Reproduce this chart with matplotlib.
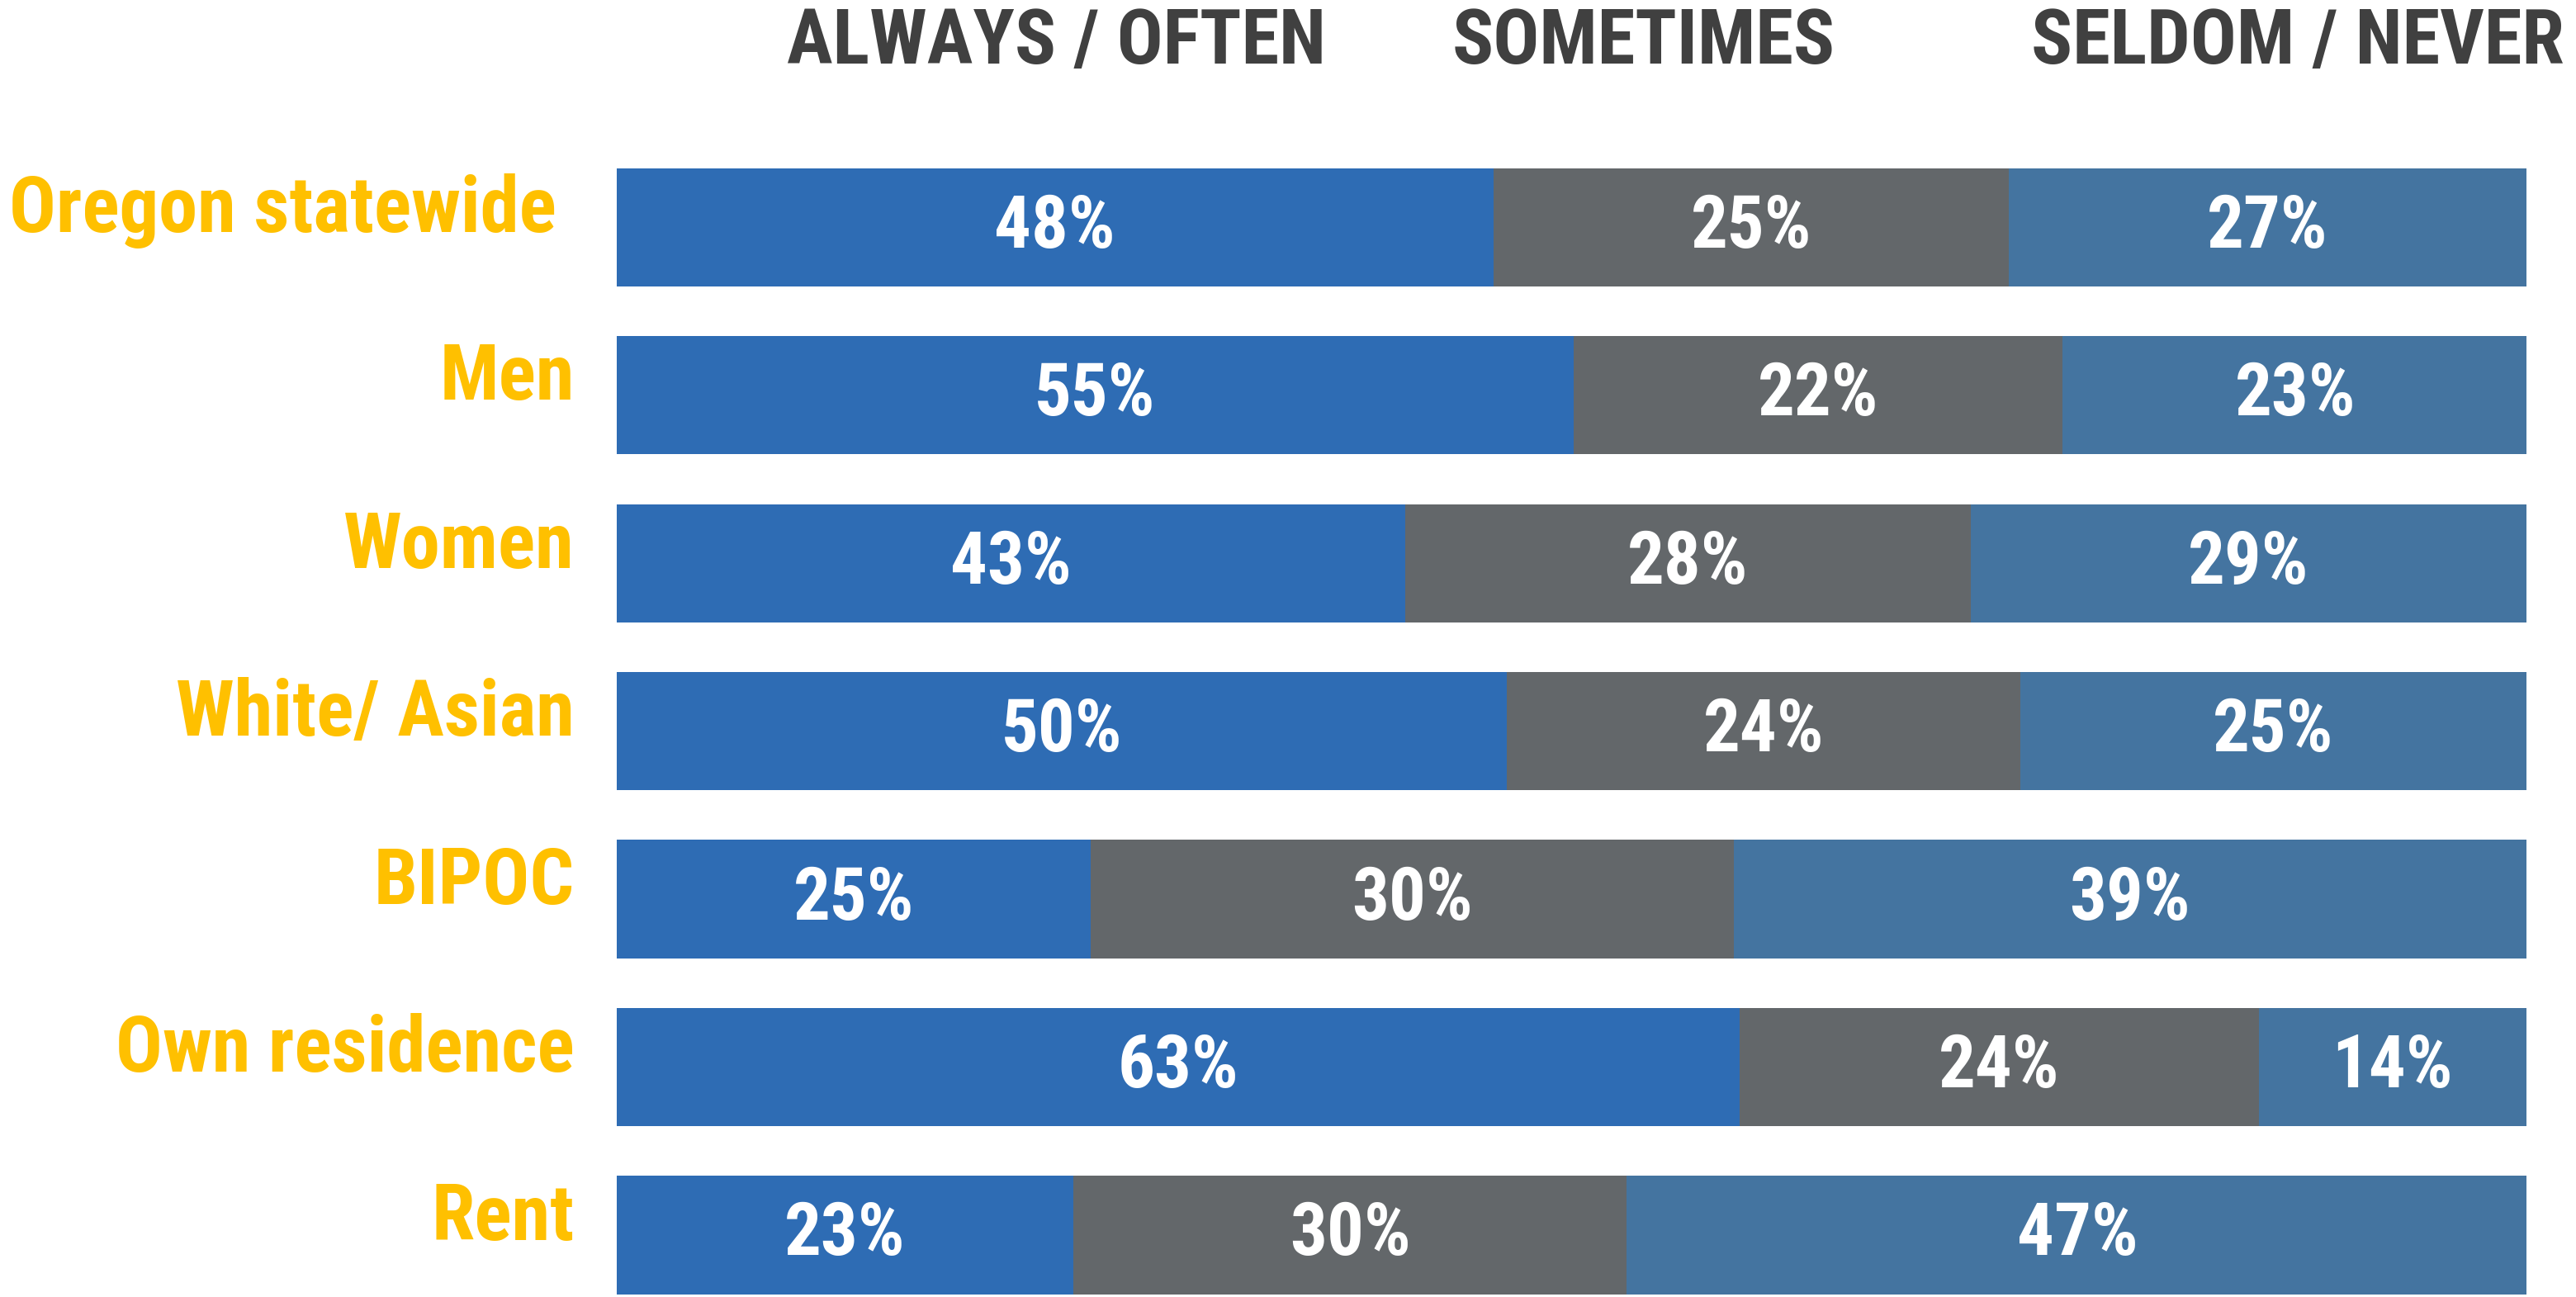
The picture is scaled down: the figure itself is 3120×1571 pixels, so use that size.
import matplotlib
matplotlib.use("Agg")
import matplotlib.pyplot as plt
import numpy as np

plt.rcParams["font.family"] = ["Roboto Condensed", "PT Sans Narrow", "Archivo Narrow", "DejaVu Sans"]

groups = ["Oregon statewide ", "Men", "Women", "White/ Asian", "BIPOC", "Own residence", "Rent"]
headers = ["ALWAYS / OFTEN", "SOMETIMES", "SELDOM / NEVER"]

# printed percentages
always = [48, 55, 43, 50, 25, 63, 23]
sometimes = [25, 22, 28, 24, 30, 24, 30]
seldom = [27, 23, 29, 25, 39, 14, 47]

# segment lengths as drawn in the picture (share of the full bar)
always_drawn = [45.9, 50.1, 41.3, 46.6, 24.8, 58.8, 23.9]
sometimes_drawn = [27.0, 25.6, 29.6, 26.9, 33.7, 27.2, 29.0]
seldom_drawn = [27.1, 24.4, 29.1, 26.5, 41.5, 14.0, 47.2]

colors = ["#2E6CB4", "#63676A", "#4474A0"]

fig = plt.figure(figsize=(31.2, 15.71), dpi=100)
ax = fig.add_axes([0.2394, 0.0, 0.7413, 0.924])

y = np.arange(len(groups))
left = np.zeros(len(groups))
for drawn, shown, col in zip([always_drawn, sometimes_drawn, seldom_drawn],
                             [always, sometimes, seldom], colors):
    drawn = np.array(drawn)
    ax.barh(y, drawn, left=left, height=0.704, color=col, linewidth=0)
    for yi, l, w, v in zip(y, left, drawn, shown):
        ax.text(l + w / 2, yi, f"{v}%", ha="center", va="center",
                color="white", fontsize=64, fontweight="bold")
    left = left + drawn

for yi, g in zip(y, groups):
    ax.text(-2.2, yi - 0.1, g, ha="right", va="center",
            color="#FFC000", fontsize=68, fontweight="bold")

ax.set_xlim(0, 100)
ax.set_ylim(6.369, -0.767)
ax.axis("off")

for xf, h in zip([0.410, 0.638, 0.892], headers):
    fig.text(xf, 0.967, h, ha="center", va="center", color="#404040",
             fontsize=67, fontweight="bold")

fig.savefig("out.png", dpi=100)
